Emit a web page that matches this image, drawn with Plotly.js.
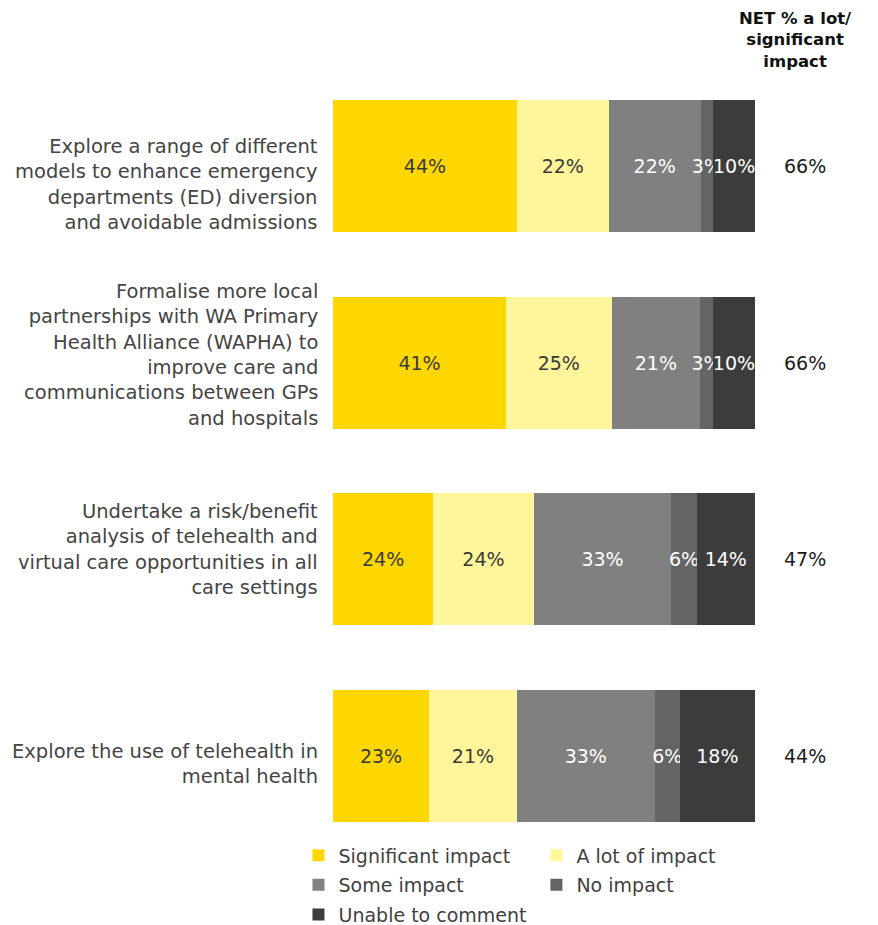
<!DOCTYPE html>
<html><head><meta charset="utf-8">
<script src="https://cdn.plot.ly/plotly-3.0.1.min.js"></script>
<style>html,body{margin:0;padding:0;background:#fff}</style>
</head><body><div id="chart" style="width:878px;height:925px"></div>
<script>
const categories = [
  "Explore a range of different<br>models to enhance emergency<br>departments (ED) diversion<br>and avoidable admissions",
  "Formalise more local<br>partnerships with WA Primary<br>Health Alliance (WAPHA) to<br>improve care and<br>communications between GPs<br>and hospitals",
  "Undertake a risk/benefit<br>analysis of telehealth and<br>virtual care opportunities in all<br>care settings",
  "Explore the use of telehealth in<br>mental health"
];
const seriesNames = ["Significant impact", "A lot of impact", "Some impact", "No impact", "Unable to comment"];
const significant = [44, 41, 24, 23];
const aLot = [22, 25, 24, 21];
const some = [22, 21, 33, 33];
const noImpact = [3, 3, 6, 6];
const unable = [10, 10, 14, 18];
const netALotSignificant = [66, 66, 47, 44];
const netTitle = "NET % a lot/<br>significant<br>impact";

const colors = ["#FFD700", "#FFF59B", "#808080", "#646464", "#3C3C3C"];
const textColors = ["#3a3a3a", "#3a3a3a", "#ffffff", "#ffffff", "#ffffff"];
const series = [significant, aLot, some, noImpact, unable];
const legendColumn = ["legend", "legend2", "legend", "legend2", "legend"];
const labelShift = [-18, 8, 10, -8];
const FONT = "DejaVu Sans, sans-serif";

const traces = series.map((vals, i) => ({
  type: "bar",
  orientation: "h",
  name: seriesNames[i],
  legend: legendColumn[i],
  legendgroup: "g" + i,
  y: categories,
  x: vals,
  text: vals.map(v => v + "%"),
  textposition: "inside",
  insidetextanchor: "middle",
  textangle: 0,
  constraintext: "none",
  textfont: {family: FONT, size: 19, color: textColors[i]},
  marker: {color: colors[i], line: {width: 0}},
  hoverinfo: "skip"
}));

const annotations = [];
categories.forEach((c, i) => {
  annotations.push({
    xref: "paper", yref: "y", x: 0, y: c, xshift: -13, yshift: labelShift[i],
    text: c, showarrow: false, xanchor: "right", yanchor: "middle", align: "right",
    font: {family: FONT, size: 19.5, color: "#444444"}
  });
});
netALotSignificant.forEach((v, i) => {
  annotations.push({
    xref: "paper", yref: "y", x: 1.118, y: categories[i],
    text: v + "%", showarrow: false, xanchor: "center", yanchor: "middle",
    font: {family: FONT, size: 19, color: "#1a1a1a"}
  });
});
annotations.push({
  xref: "paper", yref: "paper", x: 1.097, y: 1.0, yanchor: "bottom", xanchor: "center",
  yshift: -5,
  text: "<b>" + netTitle + "</b>", showarrow: false,
  font: {family: FONT, size: 16.5, color: "#111111"}
});

const legendBase = {
  orientation: "v", xref: "paper", yref: "paper",
  xanchor: "left", y: -0.0017, yanchor: "top",
  traceorder: "grouped", tracegroupgap: 2,
  font: {family: FONT, size: 19, color: "#3f3f3f"},
  bgcolor: "rgba(0,0,0,0)"
};

const layout = {
  width: 878, height: 925,
  margin: {l: 333, r: 123, t: 68, b: 90, autoexpand: false},
  barmode: "stack",
  barnorm: "percent",
  bargap: 0.33,
  paper_bgcolor: "#ffffff",
  plot_bgcolor: "#ffffff",
  showlegend: true,
  xaxis: {range: [0, 100], visible: false, fixedrange: true},
  yaxis: {
    range: [3.4034, -0.5], showgrid: false, zeroline: false, showline: false,
    ticks: "", showticklabels: false
  },
  uniformtext: {mode: "show", minsize: 19},
  legend: Object.assign({}, legendBase, {x: -0.0818}),
  legend2: Object.assign({}, legendBase, {x: 0.482}),
  annotations: annotations
};

Plotly.newPlot("chart", traces, layout, {displayModeBar: false, staticPlot: true});
</script>
</body></html>
